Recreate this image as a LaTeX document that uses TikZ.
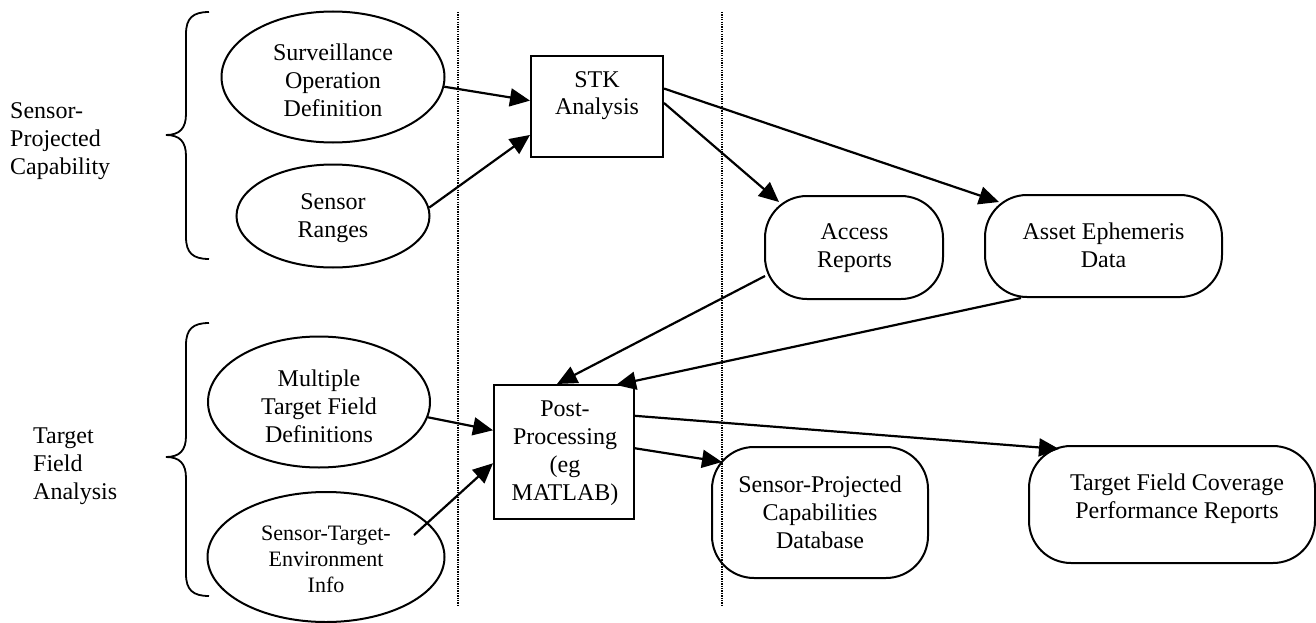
\documentclass[tikz,border=0pt]{standalone}
\usepackage{fontspec}
\setmainfont{Liberation Serif}
\usetikzlibrary{shapes.geometric,arrows.meta,calc}
\begin{document}
\begin{tikzpicture}[x=1pt,y=-1pt,
  ell/.style={ellipse,draw,line width=2pt,inner sep=0pt},
  sqbox/.style={rectangle,draw,line width=2pt,inner sep=0pt},
  rbox/.style={rectangle,draw,line width=2pt,rounded corners=42pt,inner sep=0pt},
  txt/.style={align=center,anchor=base,inner sep=0pt,font=\fontsize{24}{28}\selectfont},
  stxt/.style={align=center,anchor=base,inner sep=0pt,font=\fontsize{22}{26}\selectfont},
  ltxt/.style={align=left,anchor=base west,inner sep=0pt,font=\fontsize{24}{28}\selectfont},
  arr/.style={line width=2.2pt,-{Triangle[length=20pt,width=18pt]}},
  brace/.style={line width=1.8pt},
  sepline/.style={line width=1.4pt,dash pattern=on 1.3pt off 1.1pt}]
\useasboundingbox (0,0) rectangle (1316,623);

% separators
\coordinate (s1t) at (458,12); \coordinate (s1b) at (458,607);
\coordinate (s2t) at (722,12); \coordinate (s2b) at (722,607);
\draw[sepline] (s1t) -- (s1b);
\draw[sepline] (s2t) -- (s2b);

% left labels (anchored at the baseline of the last line)
\node[ltxt] (lab1) at (10,174) {Sensor-\\Projected\\Capability};
\node[ltxt] (lab2) at (33,499) {Target\\Field\\Analysis};

% braces
\draw[brace] (209,12) .. controls (193,12) and (186,18) .. (186,34) -- (186,114)
  .. controls (186,128) and (180,135) .. (166,135)
  .. controls (180,135) and (186,142) .. (186,156) -- (186,237)
  .. controls (186,253) and (193,259) .. (209,259);
\draw[brace] (209,323) .. controls (193,323) and (186,329) .. (186,345) -- (186,436)
  .. controls (186,450) and (180,457) .. (166,457)
  .. controls (180,457) and (186,464) .. (186,478) -- (186,574)
  .. controls (186,590) and (193,596) .. (209,596);

% shapes
\node[ell,minimum width=223pt,minimum height=131pt] (surv) at (333,77) {};
\node[ell,minimum width=193pt,minimum height=103pt] (range) at (333,216) {};
\node[ell,minimum width=222pt,minimum height=131pt] (mult) at (319,402) {};
\node[ell,minimum width=237pt,minimum height=130pt] (ste) at (326,557) {};
\node[sqbox,minimum width=132pt,minimum height=101pt] (stk) at (597,106.5) {};
\node[sqbox,minimum width=140pt,minimum height=134pt] (post) at (564,452) {};
\node[rbox,minimum width=178pt,minimum height=103pt] (access) at (854,247.5) {};
\node[rbox,minimum width=237pt,minimum height=102pt] (asset) at (1103.5,246) {};
\node[rbox,minimum width=216pt,minimum height=131pt] (spc) at (820,512.5) {};
\node[rbox,minimum width=286pt,minimum height=117pt] (tfc) at (1172,504.5) {};

% texts (anchored at the baseline of the last line)
\node[txt] (survt) at (333,117) {Surveillance\\Operation\\Definition};
\node[txt] (ranget) at (333,237) {Sensor\\Ranges};
\node[txt] (multt) at (319,442) {Multiple\\Target Field\\Definitions};
\node[stxt] (stet) at (326,592) {Sensor-Target-\\Environment\\Info};
\node[txt] (stkt) at (597,115) {STK\\Analysis};
\node[txt] (postt) at (565,500) {Post-\\Processing\\(eg\\MATLAB)};
\node[txt] (accesst) at (854.5,267) {Access\\Reports};
\node[txt] (assett) at (1103.5,267) {Asset Ephemeris\\Data};
\node[txt] (spct) at (820,548) {Sensor-Projected\\Capabilities\\Database};
\node[txt] (tfct) at (1177,518) {Target Field Coverage\\Performance Reports};

% connectors
\draw[arr] (surv.-5) -- (stk.175);
\draw[arr] (range.5) -- (stk.203);
\draw[arr] (stk.3) -- ($(access.north west)+(15,7)$);
\draw[arr] (stk.15) -- ($(asset.north west)+(15,8)$);
\draw[arr] ($(access.south west)+(1,-24)$) -- ($(post.north)+(-7,0)$);
\draw[arr] ($(asset.south west)+(37,0)$) -- ($(post.north east)+(-19,1)$);
\draw[arr] (mult.-8) -- (post.163);
\draw[arr] ($(ste.center)+(88,-22)$) -- (post.189);
\draw[arr] (post.3) -- ($(spc.north west)+(11,16)$);
\draw[arr] (post.27) -- ($(tfc.north west)+(31,4)$);
\end{tikzpicture}
\end{document}
